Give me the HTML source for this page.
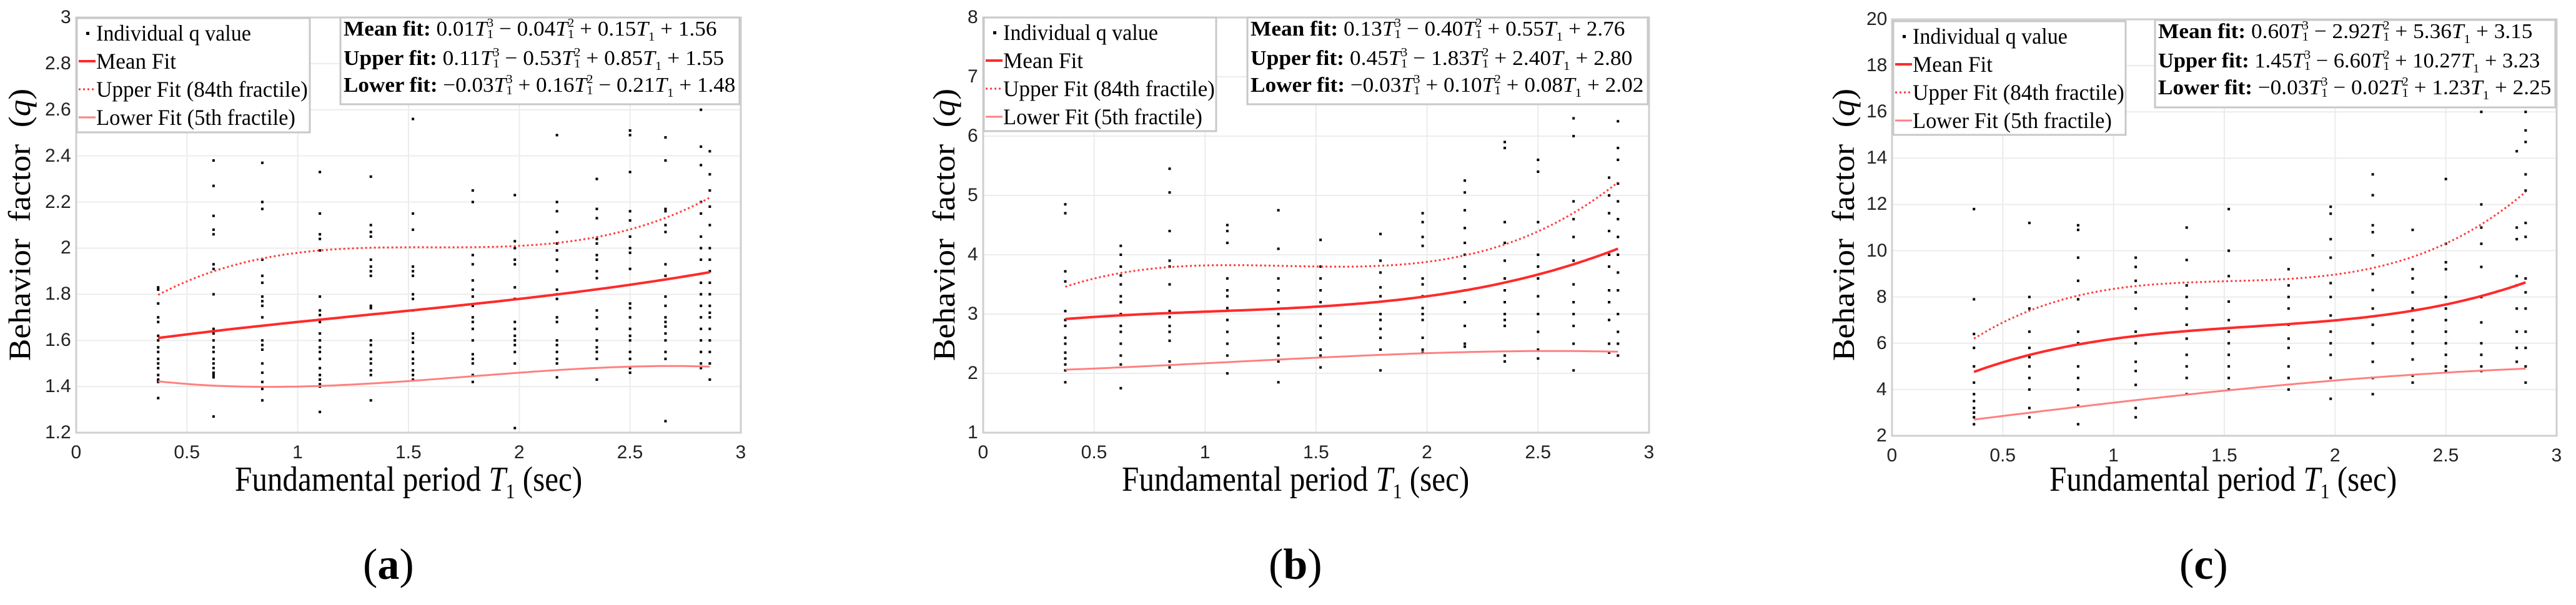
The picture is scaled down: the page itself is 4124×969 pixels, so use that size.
<!DOCTYPE html>
<html><head><meta charset="utf-8">
<style>
html,body{margin:0;padding:0;background:#fff;}
#wrap{position:relative;width:4124px;height:969px;overflow:hidden;background:#fff;}
svg{position:absolute;left:0;top:0;}
.t{position:absolute;white-space:nowrap;line-height:1;font-family:"Liberation Serif",serif;color:#000;}
.tick{font-family:"Liberation Sans",sans-serif;font-size:30px;color:#222;}
.ss{display:inline-block;vertical-align:middle;line-height:0.85;font-size:0.6em;text-align:left;margin-top:-4px;}
.ss span{display:block;}
</style></head>
<body>
<div id="wrap">
<svg id="svg" width="4124" height="969"></svg>
</div>
<script>
// ---------- data ----------
const periods = [0.37,0.62,0.84,1.1,1.33,1.52,1.79,1.98,2.17,2.35,2.5,2.66,2.82,2.86];
const qA = [
[1.83,1.82,1.76,1.70,1.68,1.62,1.6,1.57,1.55,1.52,1.5,1.48,1.45,1.43,1.42,1.35],
[2.38,2.27,2.14,2.08,2.06,1.93,1.91,1.8,1.65,1.63,1.6,1.57,1.55,1.52,1.5,1.48,1.46,1.45,1.44,1.27],
[2.37,2.2,2.17,1.95,1.88,1.85,1.79,1.77,1.75,1.7,1.6,1.58,1.56,1.5,1.46,1.42,1.39,1.34],
[2.33,2.15,2.06,2.04,1.99,1.79,1.73,1.71,1.68,1.63,1.6,1.57,1.55,1.52,1.48,1.45,1.43,1.41,1.4,1.29],
[2.31,2.1,2.07,2.05,1.95,1.92,1.9,1.88,1.75,1.74,1.6,1.58,1.55,1.52,1.5,1.47,1.45,1.34],
[2.56,2.15,2.08,1.92,1.9,1.88,1.8,1.78,1.73,1.63,1.61,1.59,1.55,1.52,1.5,1.47,1.45,1.43],
[2.25,2.2,1.97,1.93,1.86,1.82,1.79,1.75,1.7,1.68,1.65,1.6,1.54,1.52,1.5,1.45,1.42],
[2.23,2.03,2.0,1.95,1.93,1.83,1.78,1.68,1.65,1.62,1.6,1.58,1.55,1.5,1.22],
[2.49,2.2,2.16,2.07,2.02,1.99,1.95,1.9,1.82,1.8,1.78,1.7,1.68,1.6,1.58,1.55,1.52,1.5,1.44],
[2.3,2.17,2.13,2.04,2.02,1.97,1.95,1.9,1.87,1.73,1.7,1.65,1.6,1.57,1.55,1.52,1.43],
[2.51,2.49,2.33,2.16,2.12,2.05,2.0,1.98,1.91,1.76,1.74,1.7,1.65,1.62,1.6,1.55,1.52,1.48,1.46],
[2.48,2.38,2.17,2.16,2.1,2.07,1.93,1.88,1.79,1.75,1.7,1.68,1.66,1.63,1.6,1.55,1.52,1.25],
[2.6,2.44,2.36,2.2,2.15,2.05,2.0,1.95,1.85,1.8,1.75,1.7,1.65,1.6,1.55,1.5,1.48],
[2.42,2.32,2.25,2.18,2.1,2.0,1.95,1.9,1.85,1.8,1.75,1.72,1.7,1.65,1.6,1.55,1.5,1.43]];
const qB = [
[4.85,4.7,3.72,3.55,3.05,2.9,2.8,2.6,2.5,2.35,2.25,2.15,2.05,1.85],
[4.15,4.0,3.8,3.65,3.5,3.3,3.2,3.0,2.8,2.7,2.5,2.3,2.15,1.75],
[5.45,5.05,4.4,3.9,3.8,3.5,3.05,2.95,2.8,2.7,2.55,2.2,2.1],
[4.5,4.4,4.2,3.6,3.4,3.3,3.1,2.9,2.7,2.5,2.3,2.0],
[4.75,4.1,3.6,3.4,3.2,3.0,2.8,2.6,2.5,2.3,2.2,1.85],
[4.25,3.8,3.6,3.4,3.2,3.0,2.8,2.6,2.4,2.3,2.1],
[4.35,3.9,3.7,3.45,3.3,3.0,2.9,2.75,2.6,2.4,2.05],
[4.7,4.55,4.3,4.15,3.6,3.5,3.3,3.1,3.0,2.9,2.6,2.4,2.35],
[5.25,5.05,4.75,4.45,4.2,4.0,3.8,3.6,3.4,3.2,2.8,2.5,2.45],
[5.9,5.8,4.55,4.2,3.9,3.6,3.4,3.2,3.0,2.9,2.8,2.3,2.2],
[5.6,5.4,4.55,4.0,3.8,3.6,3.3,3.0,2.7,2.4,2.25],
[6.3,6.0,4.9,4.6,4.3,3.9,3.5,3.2,3.0,2.8,2.5,2.05],
[5.3,5.0,4.7,4.4,4.0,3.8,3.4,3.2,2.9,2.5,2.35],
[6.25,5.8,5.6,5.2,4.9,4.6,4.3,4.0,3.7,3.4,3.0,2.7,2.5,2.3]];
const qC = [
[11.8,7.9,6.4,5.8,5.0,4.3,3.8,3.5,3.2,3.0,2.8,2.5],
[11.2,8.0,7.5,6.5,5.8,5.4,5.0,4.5,4.0,3.2,2.8],
[11.1,10.9,9.7,8.7,7.9,6.5,6.0,5.0,4.5,4.0,3.3,2.5],
[9.7,9.3,8.7,8.2,7.5,6.5,6.0,5.2,4.8,4.2,3.2,2.8],
[11.0,9.6,8.5,8.0,7.5,6.8,6.2,5.5,5.0,4.5,3.8],
[11.8,10.0,8.9,7.8,7.0,6.5,6.0,5.5,5.0,4.5,4.0],
[9.2,8.5,8.0,7.5,6.8,6.2,5.8,5.0,4.5,4.0],
[11.9,11.6,10.5,9.7,8.6,8.0,7.2,6.5,6.0,5.5,4.5,3.6],
[13.3,12.4,11.1,10.8,9.8,9.0,8.3,7.5,6.8,6.0,5.2,4.5,3.8],
[10.9,9.2,8.8,8.2,7.5,7.0,6.5,6.0,5.3,4.6,4.3],
[13.1,10.3,9.5,9.2,8.0,7.5,7.0,6.5,6.0,5.5,5.0,4.8],
[16.0,12.0,11.0,10.3,9.3,8.0,6.9,6.0,5.5,5.0,4.8],
[14.3,11.0,10.5,8.9,8.5,7.5,6.5,5.8,5.2],
[16.0,15.2,14.7,13.3,12.6,11.2,10.6,8.8,8.2,7.5,6.5,5.8,5.0,4.3]];
// fit coefficients [a3,a2,a1,a0]
const meanA = [0.01,-0.04,0.15,1.56], upperA = [0.11,-0.53,0.85,1.55], lowerA = [-0.03,0.16,-0.21,1.48];
const meanB = [0.13,-0.40,0.55,2.76], upperB = [0.45,-1.83,2.40,2.80], lowerB = [-0.03,0.10,0.08,2.02];
const meanC = [0.60,-2.92,5.36,3.15], upperC = [1.45,-6.60,10.27,3.23], lowerC = [-0.03,-0.02,1.23,2.25];
const xTicks = [0,0.5,1,1.5,2,2.5,3];
const yTicksA = [1.2,1.4,1.6,1.8,2,2.2,2.4,2.6,2.8,3];
const yTicksB = [1,2,3,4,5,6,7,8];
const yTicksC = [2,4,6,8,10,12,14,16,18,20];
const eqA = ["0.01","0.04","0.15","1.56","0.11","0.53","0.85","1.55","0.03","0.16","0.21","1.48"];
const eqB = ["0.13","0.40","0.55","2.76","0.45","1.83","2.40","2.80","0.03","0.10","0.08","2.02"];
const eqC = ["0.60","2.92","5.36","3.15","1.45","6.60","10.27","3.23","0.03","0.02","1.23","2.25"];

// ---------- layout ----------
const NS = "http://www.w3.org/2000/svg";
const svg = document.getElementById('svg');
const wrap = document.getElementById('wrap');
function sv(tag, attrs){const e=document.createElementNS(NS,tag);for(const k in attrs)e.setAttribute(k,attrs[k]);svg.appendChild(e);return e;}
function txt(html, x, y, size, width, align, cls, rot){
  const d=document.createElement('div');
  d.className='t '+(cls||'');
  d.style.fontSize=size+'px';
  d.innerHTML=html;
  wrap.appendChild(d);
  const w=d.offsetWidth, h=d.offsetHeight;
  const s = width ? width/w : 1;
  let left = align==='center'? x-w/2 : (align==='right'? x-w : x);
  d.style.left=left+'px'; d.style.top=(y-h/2)+'px';
  const ox = align==='center'?'50%':(align==='right'?'100%':'0%');
  d.style.transformOrigin=ox+' 50%';
  let tr='';
  if(rot) tr+='rotate('+rot+'deg) ';
  if(s!==1) tr+='scaleX('+s+')';
  d.style.transform=tr;
  return d;
}
function poly(c,x){return c[0]*x*x*x+c[1]*x*x+c[2]*x+c[3];}
function term(n){return '<i>T</i><span class="ss"><span>'+n+'</span><span>1</span></span>';}
function eqLine(label, v, signs){
  return '<b>'+label+'</b> '+(signs[0]?'&minus;':'')+v[0]+term(3)+(signs[1]?' &minus; ':' + ')+v[1]+term(2)+(signs[2]?' &minus; ':' + ')+v[2]+'<i>T</i><sub style="font-size:.6em">1</sub> + '+v[3];
}

const panels = [
 {id:'a',L:122,R:1186,T:28,B:693,ymin:1.2,ymax:3,yt:yTicksA,q:qA,fits:[meanA,upperA,lowerA],eq:eqA,
  signs:[[0,1,0],[0,1,0],[1,0,1]],leg:[123,29,496,212],eqb:[545,28,1184,167],eqw:[597,608,628],ylx:31,xlx:654,lbx:622,tf:'%'},
 {id:'b',L:1574,R:2640,T:28,B:693,ymin:1,ymax:8,yt:yTicksB,q:qB,fits:[meanB,upperB,lowerB],eq:eqB,
  signs:[[0,1,0],[0,1,0],[1,0,0]],leg:[1575,28,1947,210],eqb:[1997,28,2638,167],eqw:[597,608,628],ylx:1511,xlx:2074,lbx:2074},
 {id:'c',L:3029,R:4093,T:31,B:698,ymin:2,ymax:20,yt:yTicksC,q:qC,fits:[meanC,upperC,lowerC],eq:eqC,
  signs:[[0,1,0],[0,1,0],[1,1,0]],leg:[3031,34,3403,216],eqb:[3450,32,4091,172],eqw:[597,622,628],ylx:2951,xlx:3559,lbx:3528}
];

panels.forEach(p=>{
  const X = v => p.L + (v-0)/(3-0)*(p.R-p.L);
  const Y = v => p.B - (v-p.ymin)/(p.ymax-p.ymin)*(p.B-p.T);
  // grid
  xTicks.forEach(t=>{ if(t>0&&t<3){const l=sv('line',{x1:X(t),x2:X(t),y1:p.T,y2:p.B,stroke:'#ececec','stroke-width':2});
     }
    const d=txt(String(t), X(t), p.B+32, 30, 0, 'center', 'tick');
     
  });
  p.yt.forEach(t=>{ const l=sv('line',{x1:p.L,x2:p.R,y1:Y(t),y2:Y(t),stroke:'#ececec','stroke-width':2});
     
    const d=txt(String(t), p.L-8, Y(t), 30, 0, 'right', 'tick');
     
  });
  const box=sv('rect',{x:p.L,y:p.T,width:p.R-p.L,height:p.B-p.T,fill:'none',stroke:'#cfcfcf','stroke-width':3});
   
  // points
  p.q.forEach((col,i)=>{ col.forEach(v=>{
    const r=sv('rect',{x:X(periods[i])-2,y:Y(v)-2,width:4,height:4,fill:'#000'});
     
  });});
  // fits
  const styles=[{stroke:'#ff2a2a','stroke-width':4},{stroke:'#ff3a3a','stroke-width':3,'stroke-dasharray':'3 4'},{stroke:'#ff8080','stroke-width':3}];
  const names=['mean-fit-line','upper-fit-line','lower-fit-line'];
  p.fits.forEach((c,k)=>{
    let d=''; const x0=periods[0], x1=periods[periods.length-1];
    for(let s=0;s<=100;s++){const x=x0+(x1-x0)*s/100; d+=(s?'L':'M')+X(x).toFixed(1)+','+Y(poly(c,x)).toFixed(1);}
    const a=Object.assign({d:d,fill:'none'},styles[k]);
    const path=sv('path',a);
     
  });
  // legend
  const lg=p.leg;
  const lr=sv('rect',{x:lg[0],y:lg[1],width:lg[2]-lg[0],height:lg[3]-lg[1],fill:'#fff',stroke:'#c8c8c8','stroke-width':3});
   
  const rowY=[24,69,114,159].map(o=>lg[1]+o);
  const dot=sv('rect',{x:lg[0]+15,y:rowY[0]-2,width:5,height:5,fill:'#000'});
   
  [1,2,3].forEach(k=>{const st=Object.assign({x1:lg[0]+3,x2:lg[0]+30,y1:rowY[k],y2:rowY[k]},styles[k-1]);
    const l=sv('line',st);  });
  const legT=['Individual q value','Mean Fit','Upper Fit (84th fractile)','Lower Fit (5th fractile)'];
  const legW=[248,128,339,319];
  legT.forEach((s,k)=>{const d=txt(s, lg[0]+31, rowY[k], 36, legW[k], 'left');
     });
  // equation box
  const eb=p.eqb;
  const er=sv('rect',{x:eb[0],y:eb[1],width:eb[2]-eb[0],height:eb[3]-eb[1],fill:'#fff',stroke:'#c8c8c8','stroke-width':3});
   
  const labs=['Mean fit:','Upper fit:','Lower fit:'];
  const eqY=[21,68,111];
  labs.forEach((lab,k)=>{
    const d=txt(eqLine(lab,p.eq.slice(k*4,k*4+4),p.signs[k]), eb[0]+5, eb[1]+eqY[k], 34, eb[2]-eb[0]-12-(k===0?30:(k===1?18:0)), 'left');
     
  });
  // axis titles
  const yl=txt('Behavior&nbsp; factor&nbsp; (<i>q</i>)', p.ylx, 360, 50, 436, 'center', '', -90);
   
  const xl=txt('Fundamental period <i>T</i><sub style="font-size:.6em">1</sub> (sec)', p.xlx, 772, 56, 556, 'center');
   
  const pl=txt('(<b>'+p.id+'</b>)', p.lbx, 905, 70, 0, 'center');
   
});
</script>
</body></html>
